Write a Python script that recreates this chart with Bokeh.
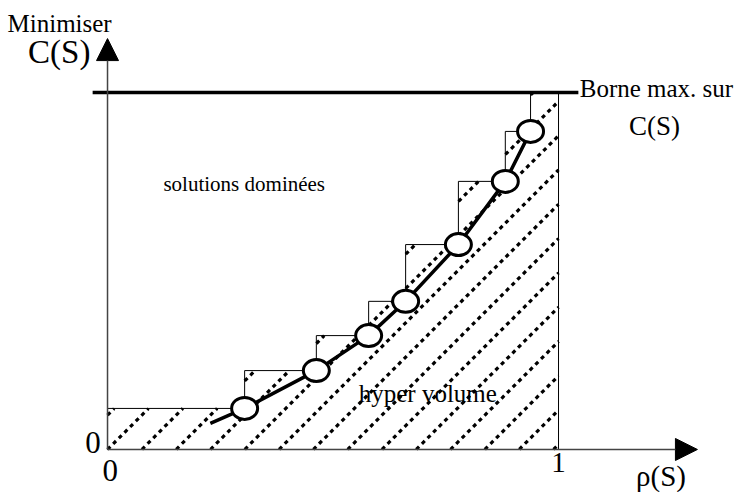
import numpy as np
from bokeh.plotting import figure
from bokeh.models import Range1d, Label, Arrow, NormalHead
from bokeh.embed import file_html
from bokeh.resources import INLINE

# Pareto front points (rho(S), C(S)), normalised so that the max bound on C is 1
rho = [0.304, 0.463, 0.579, 0.661, 0.778, 0.882, 0.938]
cost = [0.115, 0.221, 0.319, 0.415, 0.574, 0.751, 0.891]
curve_start = (0.228, 0.073)
c_max = 1.0
rho_max = 1.0

FONT = "'Liberation Serif'"
W, H = 734, 492
XR = (-0.2373, 1.3902)
YR = (-0.1205, 1.2577)

p = figure(width=W, height=H, output_backend="svg", toolbar_location=None,
           x_range=Range1d(*XR), y_range=Range1d(*YR),
           x_axis_location=None, y_axis_location=None,
           min_border=0, outline_line_color=None)
p.grid.visible = False

# staircase (upper boundary of the hypervolume)
def step_top(x):
    if x < rho[0]:
        return cost[0]
    for i in range(len(rho)):
        nxt = cost[i + 1] if i + 1 < len(rho) else c_max
        hi = rho[i + 1] if i + 1 < len(rho) else rho_max
        if rho[i] <= x <= hi:
            return nxt
    return 0.0

sx = [0.0, 0.0]
sy = [0.0, cost[0]]
for i in range(len(rho)):
    nxt = cost[i + 1] if i + 1 < len(rho) else c_max
    sx += [rho[i], rho[i]]
    sy += [cost[i], nxt]
sx += [rho_max, rho_max]
sy += [c_max, 0.0]
p.patch(sx, sy, fill_color=None, line_color="black", line_width=1)

# dotted diagonal hatching clipped to the region (45 degrees on screen)
px_x = W / (XR[1] - XR[0])
px_y = H / (YR[1] - YR[0])
slope = px_x / px_y
spacing = 34.3 / px_x
hx, hy = [], []
c = -3 * spacing
while c < rho_max:
    xs = np.linspace(0, rho_max, 3000)
    ys = (xs - c) * slope
    seg = None
    for x, y in zip(xs, ys):
        ins = (y >= 0) and (y <= step_top(x))
        if ins:
            if seg is None:
                seg = [[x], [y]]
            else:
                seg[0].append(x); seg[1].append(y)
        elif seg is not None:
            if len(seg[0]) > 1:
                hx.append([seg[0][0], seg[0][-1]]); hy.append([seg[1][0], seg[1][-1]])
            seg = None
    if seg is not None and len(seg[0]) > 1:
        hx.append([seg[0][0], seg[0][-1]]); hy.append([seg[1][0], seg[1][-1]])
    c += spacing
p.multi_line(hx, hy, line_color="black", line_width=3.2, line_dash="4 4")

# upper bound on C(S)
p.line([-0.033, 1.044], [c_max, c_max], line_color="black", line_width=3.5)

# axes with arrows
p.add_layout(Arrow(end=NormalHead(size=22, fill_color="black", line_color="black"),
                   x_start=0, y_start=0, x_end=0, y_end=1.151,
                   line_color="#444444", line_width=1.5))
p.add_layout(Arrow(end=NormalHead(size=22, fill_color="black", line_color="black"),
                   x_start=0, y_start=0, x_end=1.308, y_end=0,
                   line_color="#444444", line_width=1.5))

# Pareto curve and points
p.line([curve_start[0]] + rho, [curve_start[1]] + cost, line_color="black", line_width=3.5)
p.ellipse(x=rho, y=cost, width=26, height=22, width_units="screen", height_units="screen",
          fill_color="white", line_color="black", line_width=3)

def lab(x, y, t, size, align="left"):
    p.add_layout(Label(x=x, y=y, text=t, text_font=FONT, text_font_size=f"{size}px",
                       text_align=align, text_baseline="top", text_color="black"))

lab(-0.2217, 1.230, "Minimiser", 25)
lab(-0.038, 1.165, "C(S)", 33, align="right")
lab(-0.015, 0.050, "0", 31, align="right")
lab(0.006, -0.030, "0", 31, align="center")
lab(1.0, -0.010, "1", 29, align="center")
lab(1.172, -0.030, "ρ(S)", 29)
lab(1.047, 1.050, "Borne max. sur", 25)
lab(1.213, 0.947, "C(S)", 27, align="center")
lab(0.124, 0.776, "solutions dominées", 21)
lab(0.557, 0.196, "hyper volume", 25)

open("out.html", "w").write(file_html(p, INLINE))
